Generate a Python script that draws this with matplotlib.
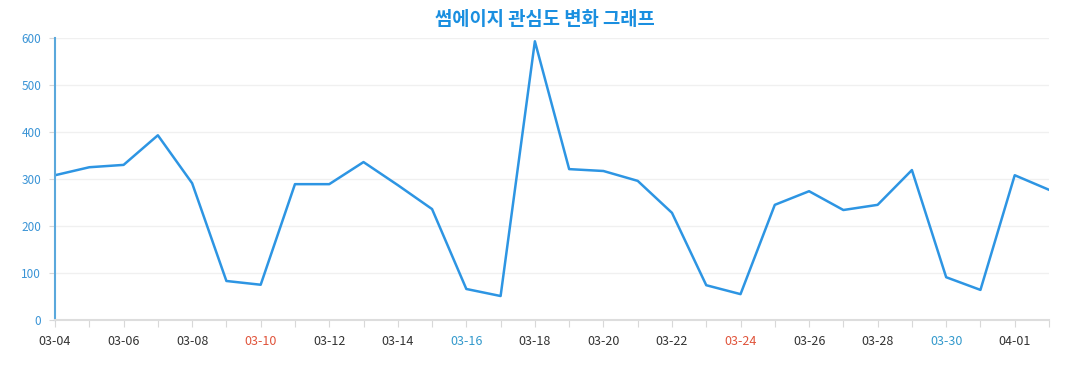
import matplotlib
matplotlib.use("Agg")
import matplotlib.pyplot as plt

# Daily interest values, 03-04 .. 04-02
dates = ["03-04", "03-05", "03-06", "03-07", "03-08", "03-09", "03-10", "03-11",
         "03-12", "03-13", "03-14", "03-15", "03-16", "03-17", "03-18", "03-19",
         "03-20", "03-21", "03-22", "03-23", "03-24", "03-25", "03-26", "03-27",
         "03-28", "03-29", "03-30", "03-31", "04-01", "04-02"]
values = [308, 325, 330, 393, 291, 83, 75, 289, 289, 336, 287, 236, 66, 51, 593,
          321, 317, 296, 228, 74, 55, 245, 274, 234, 245, 319, 91, 64, 308, 277]
saturdays = ["03-16", "03-30"]
sundays = ["03-10", "03-24"]

plt.rcParams["font.family"] = ["Noto Sans CJK KR", "DejaVu Sans"]

fig = plt.figure(figsize=(10.77, 3.9), dpi=100)
ax = fig.add_axes([0.0511, 0.1795, 0.9229, 0.7231])

x = list(range(len(dates)))
ax.plot(x, values, color="#2d95e3", linewidth=1.8)

ax.set_xlim(0, len(dates) - 1)
ax.set_ylim(0, 600)
ax.set_yticks([0, 100, 200, 300, 400, 500, 600])
ax.grid(axis="y", color="#f0f0f0", linewidth=1)
ax.set_axisbelow(True)

ax.set_xticks(x)
ax.set_xticklabels([d if i % 2 == 0 else "" for i, d in enumerate(dates)], fontsize=9)
for lbl, d in zip(ax.get_xticklabels(), dates):
    if d in saturdays:
        lbl.set_color("#3399cc")
    elif d in sundays:
        lbl.set_color("#e0533a")
    else:
        lbl.set_color("#333333")

ax.tick_params(axis="x", length=5, color="#d8d8d8", pad=6)
ax.tick_params(axis="y", length=4, color="#d8d8d8", labelcolor="#3a94d6", labelsize=8.5, pad=6)

for s in ["top", "right"]:
    ax.spines[s].set_visible(False)
ax.spines["bottom"].set_color("#dddddd")
ax.spines["bottom"].set_linewidth(1.5)
ax.spines["left"].set_color("#5aa8dc")
ax.spines["left"].set_linewidth(1.5)

fig.suptitle("썸에이지 관심도 변화 그래프", x=0.506, y=0.975, fontsize=13.5,
             fontweight="bold", color="#1a8fe0")

fig.savefig("out.png", dpi=100)
